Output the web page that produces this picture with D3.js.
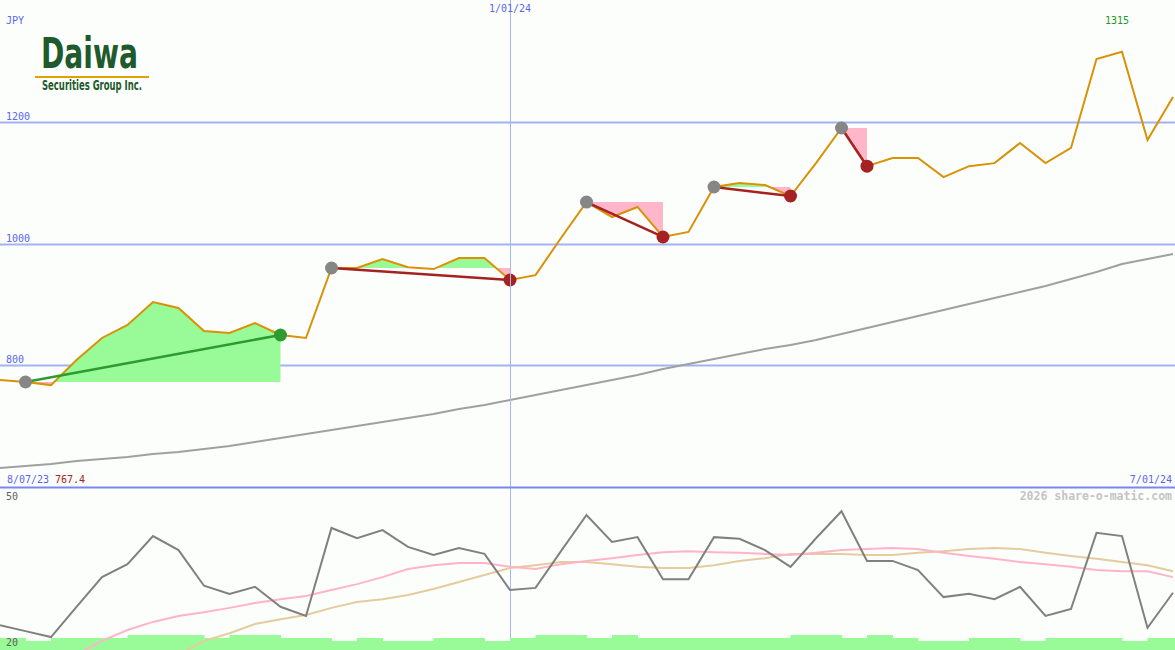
<!DOCTYPE html>
<html><head><meta charset="utf-8">
<script src="https://cdn.jsdelivr.net/npm/d3@7"></script>
<style>html,body{margin:0;padding:0;background:#fcfefc;}svg{display:block;}</style>
</head><body>
<script>
// ---- data ----
const startLabel = "8/07/23";
const midLabel = "1/01/24";
const endLabel = "7/01/24";
const currency = "JPY";
const midIndex = 20;
const priceTicks = [800, 1000, 1200];
const oscTicks = [50, 20];
const price = [775.8, 772.5, 767.4, 808.6, 844.8, 866.1, 903.9, 894.0, 856.3, 853.0, 869.4, 849.7, 844.8,
  959.8, 959.8, 974.5, 961.0, 958.0, 976.0, 976.0, 940.0, 948.0, 1009.0, 1068.0, 1043.5, 1060.0, 1010.7,
  1019.0, 1092.8, 1099.4, 1096.0, 1078.0, 1132.0, 1189.7, 1127.0, 1140.5, 1140.5, 1109.0, 1127.0, 1132.0,
  1165.0, 1132.0, 1157.0, 1303.0, 1315.0, 1170.0, 1240.7];
const longMA = [631.2, 634.5, 637.8, 642.7, 646.0, 649.3, 654.2, 657.5, 662.4, 667.4, 673.9, 680.5, 687.1,
  693.6, 700.2, 706.8, 713.3, 719.9, 728.1, 734.7, 742.9, 751.1, 759.3, 767.6, 775.8, 784.0, 793.8, 802.1,
  810.3, 818.5, 826.7, 833.3, 841.5, 851.3, 861.2, 871.0, 880.9, 890.8, 900.6, 910.5, 920.3, 930.2, 941.7,
  953.2, 966.3, 974.5, 982.7];
const oscillator = [24.6, 23.5, 22.4, 28.0, 33.5, 35.9, 41.1, 38.5, 31.9, 30.4, 31.7, 28.0, 26.3, 42.6, 40.7,
  42.2, 39.1, 37.6, 38.9, 37.8, 31.1, 31.5, 38.3, 45.0, 40.0, 40.9, 33.1, 33.1, 40.9, 40.6, 38.5, 35.4, 40.7,
  45.7, 36.5, 36.5, 34.8, 29.8, 30.4, 29.4, 31.7, 26.3, 27.6, 41.7, 41.1, 24.1, 30.6];
const oscFast = [null, null, null, 19.1, 21.7, 23.7, 25.2, 26.3, 27.0, 27.8, 28.7, 29.4, 30.0, 31.1, 32.2, 33.5,
  35.0, 35.7, 36.1, 36.1, 35.4, 35.0, 35.9, 36.5, 37.0, 37.6, 38.1, 38.3, 38.1, 38.0, 37.8, 37.6, 38.0, 38.5,
  38.7, 38.9, 38.7, 38.0, 37.4, 36.9, 36.3, 35.9, 35.4, 34.8, 34.6, 34.6, 33.5];
const oscSlow = [null, null, null, null, null, null, null, 19.1, 21.7, 23.1, 24.8, 25.7, 26.5, 27.8, 28.9, 29.4,
  30.2, 31.3, 32.6, 33.9, 35.2, 35.7, 36.3, 36.3, 35.9, 35.4, 35.2, 35.2, 35.7, 36.5, 37.0, 37.8, 37.8, 37.8,
  37.6, 37.6, 38.0, 38.3, 38.7, 38.9, 38.7, 38.0, 37.4, 36.9, 36.3, 35.7, 34.6];
const volume = [4, 3, 4, 4, 4, 5, 5, 5, 4, 5, 5, 4, 4, 3, 4, 3, 3, 4, 4, 3, 4, 5, 5, 4, 5, 4, 4, 4, 4, 4, 4,
  5, 5, 4, 5, 4, 3, 3, 4, 4, 3, 4, 4, 4, 3, 4, 4];
const signalStart = [1, 13, 23, 28, 33];
const signalEnd = [11, 20, 26, 31, 34];
const signalType = ["buy", "sell", "sell", "sell", "sell"];

// ---- layout ----
const W = 1175, H = 650;
const topH = 487;
const mono = "'DejaVu Sans Mono', 'Liberation Mono', monospace";
const svg = d3.select("body").append("svg").attr("width", W).attr("height", H);
svg.append("rect").attr("width", W).attr("height", H).attr("fill", "#fcfefc");

const x = d3.scaleLinear().domain([0, price.length - 1]).range([0, 1173]);
const y = d3.scaleLinear().domain([600, 1400]).range([topH, 0]);
const yo = d3.scaleLinear().domain([20, 50]).range([650, 488]);
const yv = d3.scaleLinear().domain([0, 5]).range([650, 635]);

const defs = svg.append("defs");
defs.append("clipPath").attr("id", "topClip").append("rect").attr("x", 0).attr("y", 0).attr("width", W).attr("height", topH - 1);
defs.append("clipPath").attr("id", "botClip").append("rect").attr("x", 0).attr("y", topH + 2).attr("width", W).attr("height", H - topH - 2);

// gridlines
const topG = svg.append("g").attr("clip-path", "url(#topClip)");
topG.selectAll("line.grid").data(priceTicks).join("line")
  .attr("x1", 0).attr("x2", W).attr("y1", d => Math.round(y(d)) + 0.5).attr("y2", d => Math.round(y(d)) + 0.5)
  .attr("stroke", "#a4b2f2").attr("stroke-width", 2);

// vertical date line
svg.append("line").attr("x1", Math.round(x(midIndex)) + 0.5).attr("x2", Math.round(x(midIndex)) + 0.5)
  .attr("y1", 0).attr("y2", H).attr("stroke", "#aab6ee").attr("stroke-width", 1);

// long moving average
topG.append("path").datum(longMA)
  .attr("d", d3.line().x((d, i) => x(i)).y(d => y(d)))
  .attr("fill", "none").attr("stroke", "#a0a0a0").attr("stroke-width", 2);

// signal fills
signalStart.forEach((s, k) => {
  const e = signalEnd[k];
  const base = price[s];
  const idx = d3.range(s, e + 1);
  const area = d3.area().x(i => x(i)).y0(y(base)).y1(i => y(price[i]));
  const idU = "up" + k, idD = "dn" + k;
  defs.append("clipPath").attr("id", idU).append("rect")
    .attr("x", 0).attr("y", 0).attr("width", W).attr("height", y(base));
  defs.append("clipPath").attr("id", idD).append("rect")
    .attr("x", 0).attr("y", y(base)).attr("width", W).attr("height", topH - y(base));
  topG.append("path").datum(idx).attr("d", area).attr("fill", "#98fb98").attr("clip-path", `url(#${idU})`);
  topG.append("path").datum(idx).attr("d", area).attr("fill", "#ffb6c8").attr("clip-path", `url(#${idD})`);
});

// price line
topG.append("path").datum(price)
  .attr("d", d3.line().x((d, i) => x(i)).y(d => y(d)))
  .attr("fill", "none").attr("stroke", "#d99107").attr("stroke-width", 2);

// signal lines + circles
signalStart.forEach((s, k) => {
  const e = signalEnd[k];
  const col = signalType[k] === "buy" ? "#2f9a2f" : "#a52222";
  topG.append("line").attr("x1", x(s)).attr("y1", y(price[s])).attr("x2", x(e)).attr("y2", y(price[e]))
    .attr("stroke", col).attr("stroke-width", 2.5);
  topG.append("circle").attr("cx", x(s)).attr("cy", y(price[s])).attr("r", 6.5).attr("fill", "#868686");
  topG.append("circle").attr("cx", x(e)).attr("cy", y(price[e])).attr("r", 6.5).attr("fill", col);
});

// divider
svg.append("line").attr("x1", 0).attr("x2", W).attr("y1", topH + 0.5).attr("y2", topH + 0.5)
  .attr("stroke", "#7a88ee").attr("stroke-width", 2);

// lower panel
const botG = svg.append("g").attr("clip-path", "url(#botClip)");
botG.selectAll("rect.vol").data(volume).join("rect")
  .attr("x", (d, i) => x(i)).attr("width", x(1) - x(0) + 0.5)
  .attr("y", d => yv(d)).attr("height", d => 650 - yv(d)).attr("fill", "#98fb98");
const lineO = d3.line().defined(d => d !== null).x((d, i) => x(i)).y(d => yo(d));
botG.append("path").datum(oscSlow).attr("d", lineO).attr("fill", "none").attr("stroke", "#e4cc9c").attr("stroke-width", 2);
botG.append("path").datum(oscFast).attr("d", lineO).attr("fill", "none").attr("stroke", "#ffb4c8").attr("stroke-width", 2);
botG.append("path").datum(oscillator).attr("d", lineO).attr("fill", "none").attr("stroke", "#808080").attr("stroke-width", 2);

// texts
const txt = (t, tx, ty, col, anchor, size, weight) => svg.append("text").text(t)
  .attr("x", tx).attr("y", ty).attr("fill", col).attr("text-anchor", anchor || "start")
  .attr("font-family", mono).attr("font-size", size || 10).attr("font-weight", weight || "normal");
txt(currency, 6, 24, "#5a66f0");
priceTicks.forEach(t => txt(String(t), 6, Math.round(y(t)) - 2, "#5a66f0"));
txt(midLabel, x(midIndex), 12, "#5a66f0", "middle");
const iMax = d3.maxIndex(price);
txt(String(d3.max(price)), x(iMax) - 5, 24, "#229922", "middle");
txt(startLabel, 7, 483, "#5a66f0");
txt(String(d3.min(price)), 55, 483, "#a52222");
txt(endLabel, 1172, 483, "#5a66f0", "end");
txt("2026 share-o-matic.com", 1172, 500, "#c4c4c4", "end", 11.5, "bold");
oscTicks.forEach(t => txt(String(t), 6, t === 50 ? 500 : 646, "#606060"));

// logo
const logo = svg.append("g");
logo.append("text").text("Daiwa").attr("x", 41).attr("y", 68)
  .attr("font-family", "'Liberation Sans Narrow','DejaVu Sans Condensed','Roboto',sans-serif")
  .attr("font-weight", "bold").attr("font-size", 42).attr("fill", "#1f5a2c")
  .attr("textLength", 97).attr("lengthAdjust", "spacingAndGlyphs");
logo.append("rect").attr("x", 35).attr("y", 76).attr("width", 114).attr("height", 2).attr("fill", "#e0a000");
logo.append("text").text("Securities Group Inc.").attr("x", 42).attr("y", 90)
  .attr("font-family", "'Liberation Sans Narrow','DejaVu Sans Condensed','Roboto',sans-serif")
  .attr("font-weight", "bold").attr("font-size", 13.5).attr("fill", "#1f5a2c")
  .attr("textLength", 100).attr("lengthAdjust", "spacingAndGlyphs");
</script>
</body></html>
